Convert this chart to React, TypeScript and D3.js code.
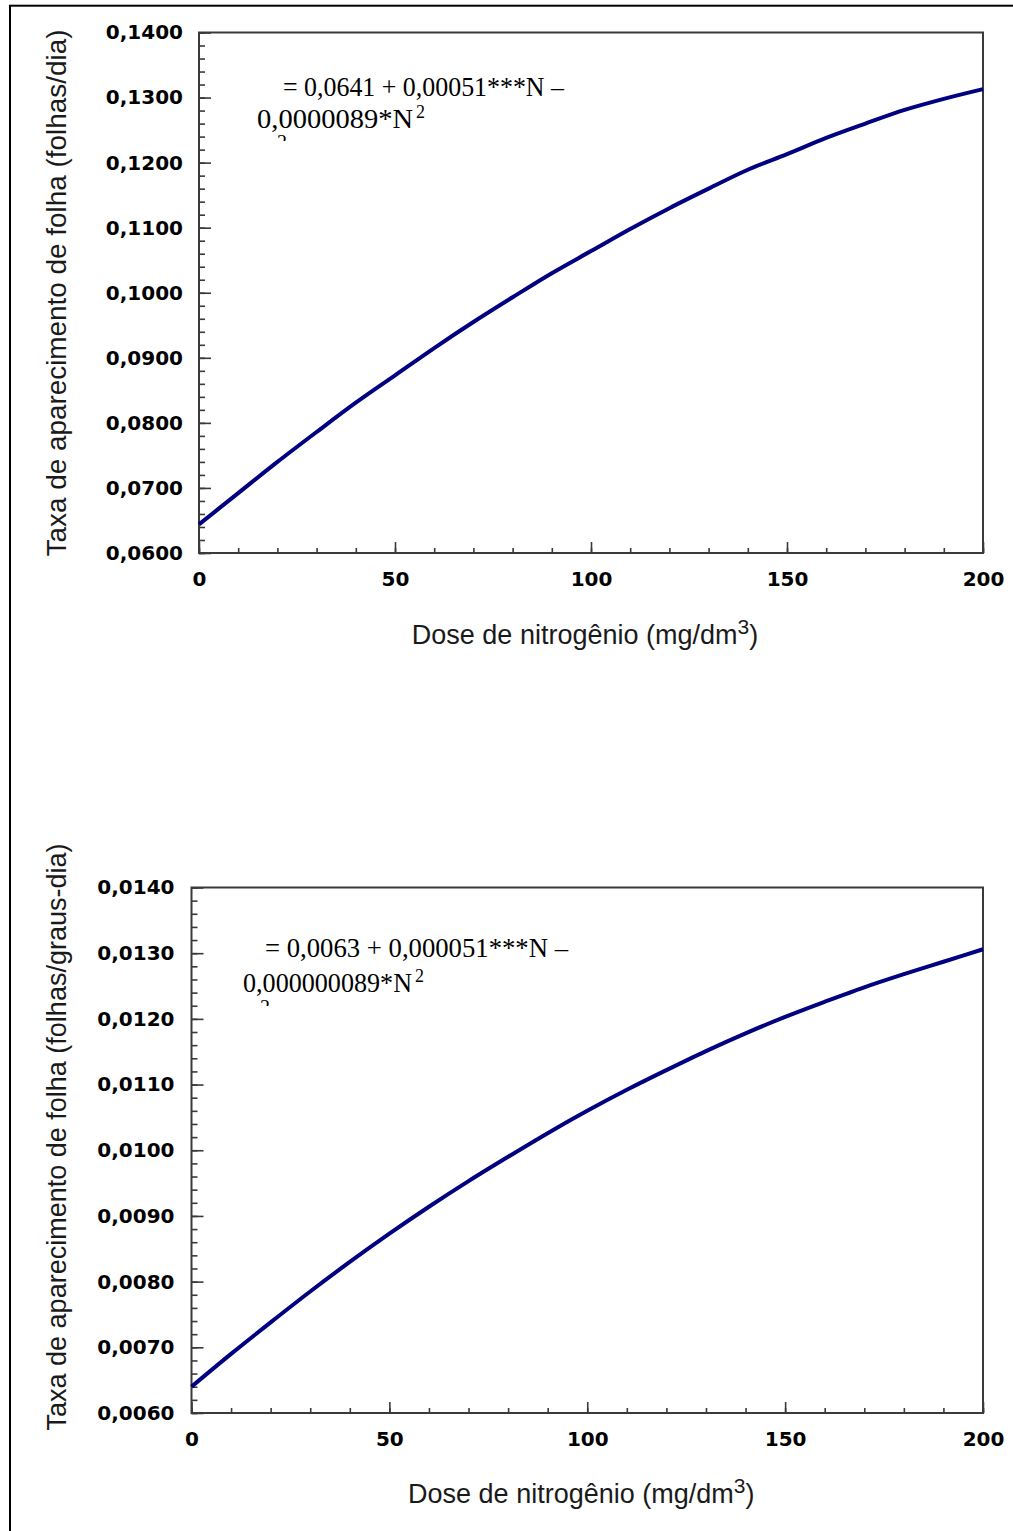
import React, { useEffect, useRef } from 'react';
import * as d3 from 'd3';

// Dose de nitrogênio (mg/dm3)
const doses = [0, 10, 20, 30, 40, 50, 60, 70, 80, 90, 100, 110, 120, 130, 140, 150, 160, 170, 180, 190, 200];

// Taxa de aparecimento de folha (folhas/dia)
const taxaDia = [0.0644, 0.0692, 0.0740, 0.0786, 0.0831, 0.0873, 0.0915, 0.0955, 0.0993, 0.1030, 0.1064,
  0.1098, 0.1130, 0.1160, 0.1189, 0.1213, 0.1238, 0.1260, 0.1281, 0.1298, 0.1313];

// Taxa de aparecimento de folha (folhas/graus-dia)
const taxaGrausDia = [0.00640, 0.00690, 0.00738, 0.00785, 0.00830, 0.00873, 0.00914, 0.00953, 0.00990, 0.01026,
  0.01060, 0.01092, 0.01122, 0.01151, 0.01178, 0.01203, 0.01226, 0.01248, 0.01268, 0.01287, 0.01306];

const xTicks = [0, 50, 100, 150, 200];
const yTicksDia = [0.06, 0.07, 0.08, 0.09, 0.10, 0.11, 0.12, 0.13, 0.14];
const yTicksGrausDia = [0.006, 0.007, 0.008, 0.009, 0.010, 0.011, 0.012, 0.013, 0.014];

const equacaoDia = ['= 0,0641 + 0,00051***N –', '0,0000089*N'];
const equacaoGrausDia = ['= 0,0063 + 0,000051***N –', '0,000000089*N'];

const tituloX = 'Dose de nitrogênio (mg/dm';
const tituloYDia = 'Taxa de aparecimento de folha (folhas/dia)';
const tituloYGrausDia = 'Taxa de aparecimento de folha (folhas/graus-dia)';

const ptBR = d3.formatLocale({ decimal: ',', thousands: '.', grouping: [3], currency: ['R$', ''] });
const fmt = ptBR.format('.4f');

const drawChart = (svg, c) => {
  const x = d3.scaleLinear().domain([0, 200]).range([c.left, c.right]);
  const y = d3.scaleLinear().domain([c.yTicks[0], c.yTicks[c.yTicks.length - 1]]).range([c.bottom, c.top]);
  const step = (c.yTicks[1] - c.yTicks[0]) / 5;

  const g = svg.append('g');

  // minor ticks
  g.append('g')
    .attr('transform', `translate(0,${c.bottom})`)
    .call(d3.axisBottom(x).tickValues(d3.range(0, 201, 10)).tickSize(-5).tickSizeOuter(0).tickFormat(() => ''));
  g.append('g')
    .attr('transform', `translate(${c.left},0)`)
    .call(d3.axisLeft(y).tickValues(d3.range(0, 41).map(i => c.yTicks[0] + i * step)).tickSize(-6).tickSizeOuter(0).tickFormat(() => ''));

  // major ticks with labels
  g.append('g')
    .attr('class', 'xmaj')
    .attr('transform', `translate(0,${c.bottom})`)
    .call(d3.axisBottom(x).tickValues(xTicks).tickSize(-11).tickSizeOuter(0).tickPadding(19).tickFormat(d3.format('d')));
  g.append('g')
    .attr('class', 'ymaj')
    .attr('transform', `translate(${c.left},0)`)
    .call(d3.axisLeft(y).tickValues(c.yTicks).tickSize(-12).tickSizeOuter(0).tickPadding(c.labelPad).tickFormat(fmt));

  g.selectAll('.domain').remove();
  g.selectAll('.tick line').attr('stroke', '#3a3a3a').attr('stroke-width', 1.6);
  g.selectAll('.xmaj text, .ymaj text')
    .attr('font-family', 'DejaVu Sans, sans-serif')
    .attr('font-weight', 'bold')
    .attr('font-size', 20)
    .attr('fill', '#000');

  // plot frame
  g.append('rect')
    .attr('x', c.left)
    .attr('y', c.top)
    .attr('width', c.right - c.left)
    .attr('height', c.bottom - c.top)
    .attr('fill', 'none')
    .attr('stroke', '#3a3a3a')
    .attr('stroke-width', 2);

  // curve
  const line = d3.line()
    .x((d, i) => x(doses[i]))
    .y(d => y(d))
    .curve(d3.curveMonotoneX);
  g.append('path')
    .datum(c.values)
    .attr('d', line)
    .attr('fill', 'none')
    .attr('stroke', '#000080')
    .attr('stroke-width', 4);

  // equation
  const eq = g.append('g')
    .attr('font-family', 'Liberation Serif, Times New Roman, serif')
    .attr('font-size', 27)
    .attr('fill', '#000');
  eq.append('text')
    .attr('x', c.eqX1).attr('y', c.eqY1)
    .attr('textLength', c.eqW1).attr('lengthAdjust', 'spacingAndGlyphs')
    .text(c.eq[0]);
  eq.append('text')
    .attr('x', c.eqX2).attr('y', c.eqY2)
    .attr('textLength', c.eqW2).attr('lengthAdjust', 'spacingAndGlyphs')
    .text(c.eq[1]);
  eq.append('text')
    .attr('x', c.eqX2 + c.eqW2 + 3).attr('y', c.eqY2 - 10)
    .attr('font-size', 18)
    .text('2');

  // clipped leftover "2" under the equation
  const clipId = `clip-${c.id}`;
  g.append('clipPath').attr('id', clipId)
    .append('rect').attr('x', c.eqX2).attr('y', c.eqY2 + 2).attr('width', 60).attr('height', c.fragCut - c.eqY2 - 2);
  g.append('text')
    .attr('clip-path', `url(#${clipId})`)
    .attr('x', c.fragX).attr('y', c.fragCut + 8)
    .attr('font-family', 'Liberation Serif, Times New Roman, serif')
    .attr('font-size', 20)
    .text('2');

  // axis titles
  const xt = g.append('text')
    .attr('x', (c.left + c.right) / 2 - 6)
    .attr('y', c.xTitleY)
    .attr('text-anchor', 'middle')
    .attr('font-family', 'Liberation Sans, Arial, sans-serif')
    .attr('font-size', 27)
    .attr('fill', '#1a1a1a');
  xt.append('tspan').text(tituloX);
  xt.append('tspan').attr('dy', -10).attr('font-size', 21).text('3');
  xt.append('tspan').attr('dy', 10).text(')');

  g.append('text')
    .attr('transform', `translate(${c.yTitleX},${c.yTitleY}) rotate(-90)`)
    .attr('text-anchor', 'middle')
    .attr('font-family', 'Liberation Sans, Arial, sans-serif')
    .attr('font-size', 27)
    .attr('fill', '#1a1a1a')
    .attr('textLength', c.yTitleLen)
    .attr('lengthAdjust', 'spacingAndGlyphs')
    .text(c.yTitle);
};

const App = () => {
  const ref = useRef(null);

  useEffect(() => {
    const svg = d3.select(ref.current);
    svg.selectAll('*').remove();

    // outer page border
    svg.append('rect')
      .attr('x', 10).attr('y', 5.7)
      .attr('width', 1100).attr('height', 1700)
      .attr('fill', 'none').attr('stroke', '#000').attr('stroke-width', 2);

    drawChart(svg, {
      id: 'dia', left: 199, right: 983, top: 32.5, bottom: 553,
      yTicks: yTicksDia, values: taxaDia, labelPad: 16,
      eq: equacaoDia, eqX1: 283, eqY1: 96, eqW1: 281, eqX2: 257, eqY2: 128, eqW2: 156,
      fragX: 277, fragCut: 141,
      xTitleY: 644, yTitle: tituloYDia, yTitleX: 66, yTitleY: 293, yTitleLen: 527,
    });

    drawChart(svg, {
      id: 'graus', left: 191.5, right: 983, top: 887.5, bottom: 1413,
      yTicks: yTicksGrausDia, values: taxaGrausDia, labelPad: 17,
      eq: equacaoGrausDia, eqX1: 265, eqY1: 957, eqW1: 303, eqX2: 243, eqY2: 992, eqW2: 169,
      fragX: 260, fragCut: 1006,
      xTitleY: 1503, yTitle: tituloYGrausDia, yTitleX: 66, yTitleY: 1137, yTitleLen: 587,
    });
  }, []);

  return (
    <svg ref={ref} width={1013} height={1531}
      style={{ position: 'absolute', left: 0, top: 0, background: '#fff' }} />
  );
};

export default App;
